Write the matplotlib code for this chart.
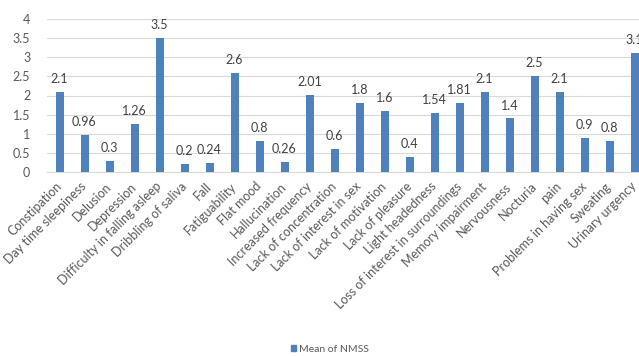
import matplotlib
matplotlib.use("Agg")
import matplotlib.pyplot as plt
from matplotlib.patches import Patch

categories = ["Constipation", "Day time sleepiness", "Delusion", "Depression",
              "Difficulty in falling asleep", "Dribbling of saliva", "Fall",
              "Fatiguability", "Flat mood", "Hallucination", "Increased frequency",
              "Lack of concentration", "Lack of interest in sex", "Lack of motivation",
              "Lack of pleasure", "Light headedness", "Loss of interest in surroundings",
              "Memory impairment", "Nervousness", "Nocturia", "pain",
              "Problems in having sex", "Sweating", "Urinary urgency"]
values = [2.1, 0.96, 0.3, 1.26, 3.5, 0.2, 0.24, 2.6, 0.8, 0.26, 2.01, 0.6, 1.8, 1.6,
          0.4, 1.54, 1.81, 2.1, 1.4, 2.5, 2.1, 0.9, 0.8, 3.1]
value_labels = ["2.1", "0.96", "0.3", "1.26", "3.5", "0.2", "0.24", "2.6", "0.8", "0.26",
                "2.01", "0.6", "1.8", "1.6", "0.4", "1.54", "1.81", "2.1", "1.4", "2.5",
                "2.1", "0.9", "0.8", "3.1"]
yticks = [0, 0.5, 1, 1.5, 2, 2.5, 3, 3.5, 4]
ytick_labels = ["0", "0.5", "1", "1.5", "2", "2.5", "3", "3.5", "4"]
series_name = "Mean of NMSS"

plt.rcParams['font.family'] = ['Lato', 'DejaVu Sans']
W, H = 639, 356
fig = plt.figure(figsize=(W / 100, H / 100), dpi=100)
left, right, top, bottom = 47, 647, 19, 172
ax = fig.add_axes([left / W, 1 - bottom / H, (right - left) / W, (bottom - top) / H])

color = "#4F81BD"
text_color = "#595959"
x = list(range(len(categories)))
ax.bar(x, values, width=0.32, color=color, zorder=3)
for xi, v, lab in zip(x, values, value_labels):
    ax.annotate(lab, (xi, v), xytext=(0, 5), textcoords="offset points",
                ha="center", va="bottom", fontsize=9, color="#404040",
                annotation_clip=False)

ax.set_xlim(-0.5, len(categories) - 0.5)
ax.set_ylim(0, 4)
ax.set_yticks(yticks)
ax.set_yticklabels(ytick_labels, fontsize=9, color=text_color)
ax.set_xticks(x)
ax.set_xticklabels(categories, rotation=45, ha="right", va="center",
                   rotation_mode="anchor", fontsize=9, color=text_color)
ax.tick_params(axis="both", length=0)
ax.tick_params(axis="y", pad=12)
ax.tick_params(axis="x", pad=9)
ax.grid(axis="y", color="#D9D9D9", linewidth=0.8, zorder=0)
for s in ["top", "right", "left"]:
    ax.spines[s].set_visible(False)
ax.spines["bottom"].set_color("#D9D9D9")

fig.legend(handles=[Patch(color=color, label=series_name)], loc="center",
           bbox_to_anchor=(330 / W, 1 - 349 / H), frameon=False, fontsize=7.5,
           handlelength=0.5, handleheight=0.6, handletextpad=0.3,
           labelcolor=text_color)

fig.savefig("out.png", dpi=100, facecolor="white")
